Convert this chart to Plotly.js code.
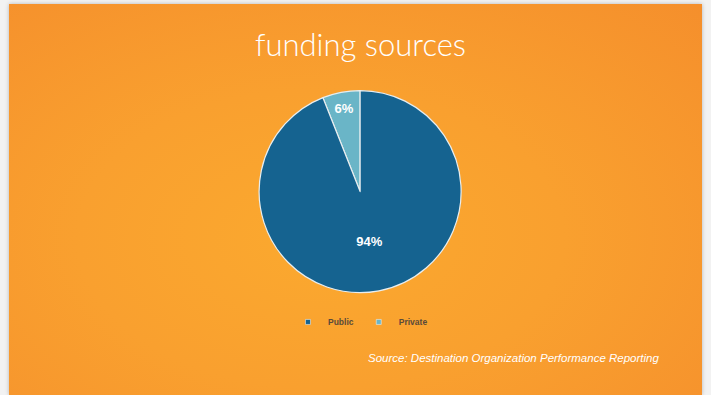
<!DOCTYPE html>
<html>
<head>
<meta charset="utf-8">
<script src="https://cdn.plot.ly/plotly-3.0.1.min.js"></script>
<style>
  html, body { margin: 0; padding: 0; width: 711px; height: 395px; overflow: hidden; background: #f2f2f2; }
  #slide { position: absolute; left: 9px; top: 4px; width: 693px; height: 391px;
    background: radial-gradient(ellipse at 45% 60%, #fba92f 0%, #f9a02f 45%, #f58f2c 100%);
    box-shadow: 0 0 4px rgba(0,0,0,0.25); }
  #chart { position: absolute; left: 0; top: 0; width: 711px; height: 395px; }
</style>
</head>
<body>
<div id="slide"></div>
<div id="chart"></div>
<script>
const categories = ["Private", "Public"];
const shares = [6, 94];
const sliceColors = ["#6ab5c7", "#156390"];
const chartTitle = "funding sources";
const sourceNote = "Source: Destination Organization Performance Reporting";

const total = shares.reduce((a, b) => a + b, 0);

const pieTrace = {
  type: "pie",
  labels: categories,
  values: shares,
  sort: false,
  direction: "clockwise",
  rotation: -360 * shares[0] / total,
  marker: { colors: sliceColors, line: { color: "#e8eef0", width: 1.2 } },
  textinfo: "percent",
  texttemplate: "%{percent:.0%}",
  textposition: "inside",
  insidetextorientation: "horizontal",
  insidetextfont: { color: "#ffffff", size: 13, family: "Liberation Sans, Arial", weight: "bold" },
  domain: { x: [0.2225, 0.7905], y: [0.2593, 0.7707] },
  hoverinfo: "none",
  showlegend: false
};

// legend entries (small square markers) built from the same categories/colours
const legendTraces = categories.map((c, i) => ({
  type: "scatter", mode: "markers", x: [null], y: [null],
  name: c,
  marker: { color: sliceColors[i], size: 5, symbol: "square", line: { color: "#e8eef0", width: 0.6 } },
  hoverinfo: "none"
})).reverse();

const layout = {
  width: 711, height: 395,
  margin: { l: 0, r: 0, t: 0, b: 0 },
  paper_bgcolor: "rgba(0,0,0,0)",
  plot_bgcolor: "rgba(0,0,0,0)",
  xaxis: { visible: false, domain: [0, 0.01] },
  yaxis: { visible: false, domain: [0, 0.01] },
  showlegend: true,
  legend: {
    orientation: "h", x: 0.507, xanchor: "center", y: 0.185, yanchor: "middle",
    font: { size: 8.5, color: "#5a4a3a", family: "Liberation Sans, Arial", weight: "bold" },
    itemsizing: "trace",
    itemwidth: 30, bgcolor: "rgba(0,0,0,0)", tracegroupgap: 0
  },
  title: {
    text: chartTitle,
    x: 0.507, xanchor: "center", y: 0.885, yanchor: "middle",
    font: { size: 31, color: "#ffffff", family: "Lato, Open Sans, sans-serif", weight: 300 }
  },
  annotations: [{
    text: sourceNote, xref: "paper", yref: "paper",
    x: 0.929, xanchor: "right", y: 0.094, yanchor: "middle",
    showarrow: false,
    font: { size: 11.5, color: "#ffffff", family: "Liberation Sans, Arial", style: "italic" }
  }]
};

Plotly.newPlot("chart", [pieTrace, ...legendTraces], layout, { displayModeBar: false, staticPlot: true });
</script>
</body>
</html>
